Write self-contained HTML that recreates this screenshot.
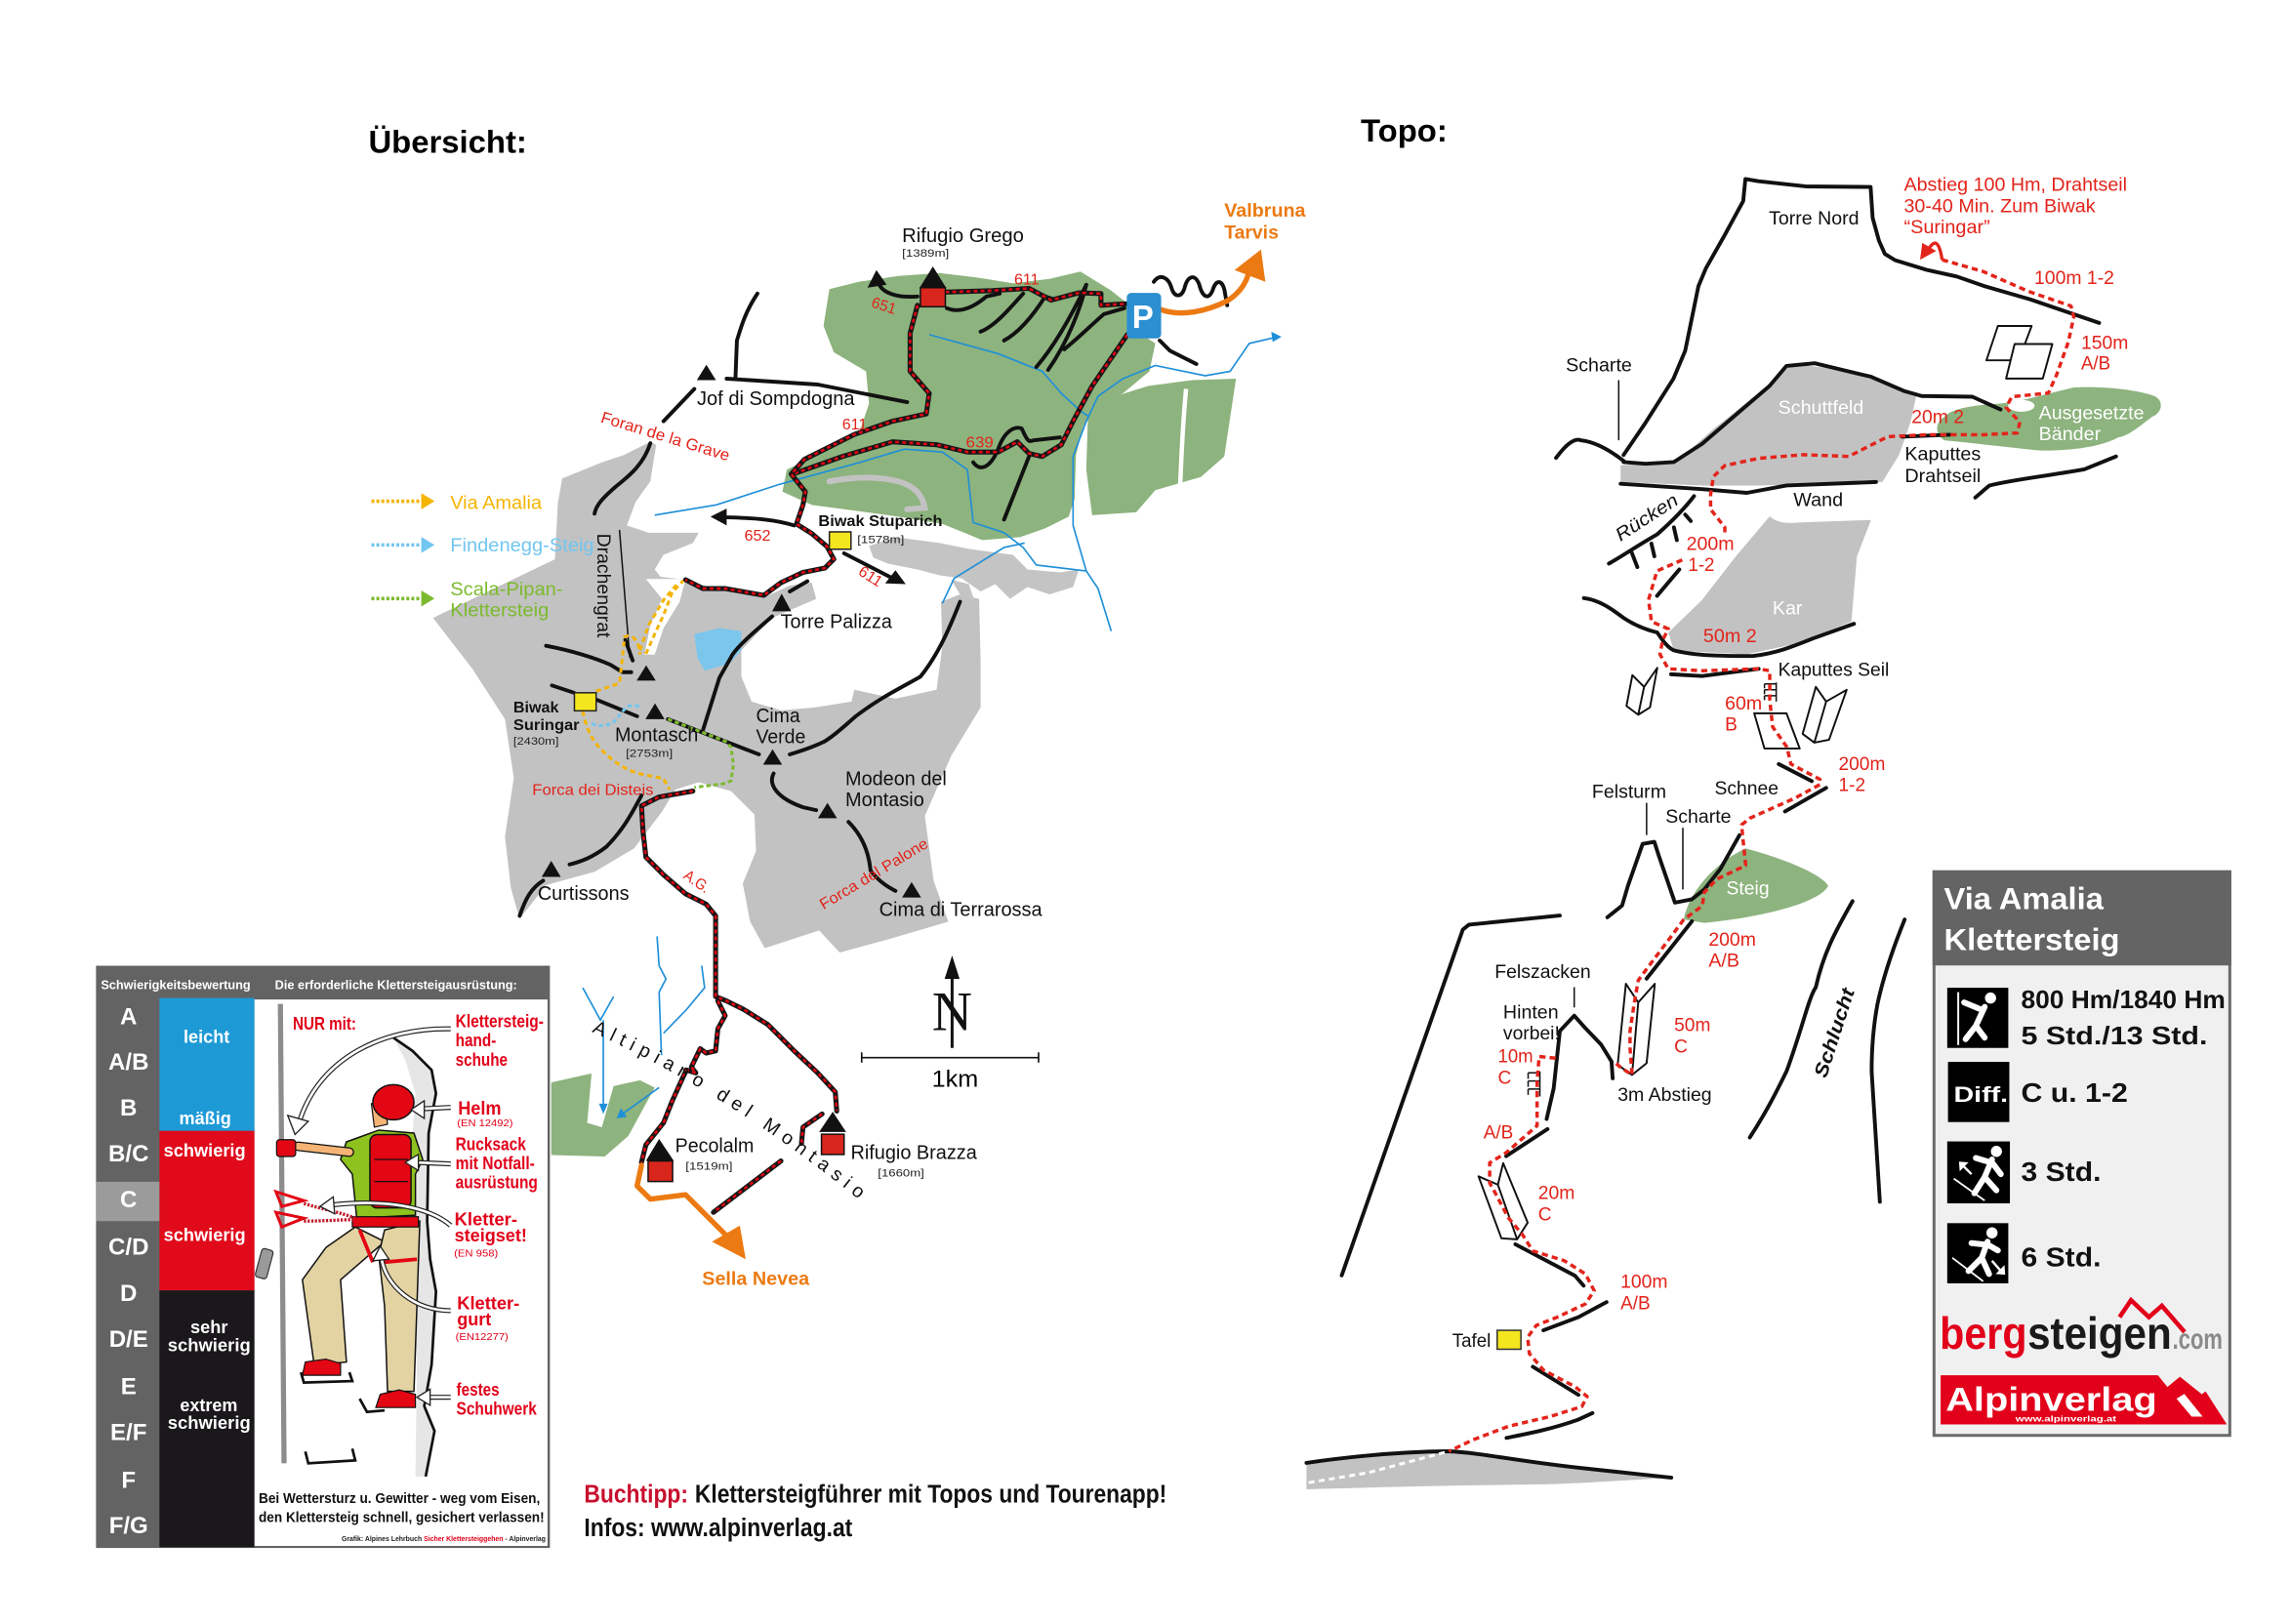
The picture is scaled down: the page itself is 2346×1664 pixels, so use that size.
<!DOCTYPE html>
<html><head><meta charset="utf-8">
<style>
html,body{margin:0;padding:0;background:#fff;}
svg{display:block;}
text{font-family:"Liberation Sans",Arial,sans-serif;}
.b{font-weight:bold;}
.k{fill:none;stroke:#111;stroke-width:2.6;stroke-linecap:round;stroke-linejoin:round;}
.kt{fill:none;stroke:#111;stroke-width:1;}
.tb{fill:none;stroke:#161616;stroke-width:3.4;stroke-linecap:round;stroke-linejoin:round;}
.tr{fill:none;stroke:#e30613;stroke-width:1.7;stroke-dasharray:2.6 2.2;stroke-linejoin:round;}
.bl{fill:none;stroke:#1f8fd8;stroke-width:1.1;}
.rd{fill:none;stroke:#e3241b;stroke-width:2.3;stroke-dasharray:4.2 2.8;stroke-linejoin:round;}
.red{fill:#e2231a;}
.wt{fill:#fff;}
.rk{fill:#fff;stroke:#111;stroke-width:1.3;stroke-linejoin:round;}
.arw{fill:none;stroke:#222;stroke-width:3.4;stroke-linecap:butt;}
.arw2{fill:none;stroke:#fff;stroke-width:1.8;}
.ah{fill:#fff;stroke:#222;stroke-width:0.9;}
</style></head><body>
<svg width="2346" height="1664" viewBox="0 0 1560 1106.5" xmlns="http://www.w3.org/2000/svg">
<rect x="0" y="0" width="1560" height="1106.5" fill="#fff"/>

<defs>
<path id="t1" d="M644,199 L676,198 L701,196.5 L716,204.5 L735,199.5 L750,200 L750,208 L767,207"/>
<path id="t2" d="M768,228 L757,244 L744,263 L731,287 L723,303 L710,311 L701,309 L693,301 L680,308 L659,308 L638,303 L608,301 L574,311 L540,323"/>
<path id="t3" d="M625,208 L620,227 L620,253 L633,268 L631,282 L608,287 L582,296 L548,313 L539,323 L548.6,335 L547,344 L542.6,357 L553,363.5 L563.4,372.4 L568,381 L562,387 L547,390 L532,397 L520.4,405.6 L493.7,401 L478.8,401 L467,395"/>
<path id="t4" d="M472,539 L449,543 L437,549 L438,566 L440,584 L452,596 L467,609 L481,616 L487.5,624 L487.5,642 L487.5,679 L495,682 L507,688 L523,698 L541,716 L557,731 L569,744 L570,757"/>
<path id="t5" d="M489,682 L494,692 L489,701 L487.5,716 L481,717.5 L477,714.5 L471,727 L474,731 L467.5,729 L458,750 L452,765 L440,780 L437,792"/>
<path id="t6" d="M560,759 L547,768 L546,779"/>
<path id="t7" d="M532,791 L486,826"/>
</defs>

<!-- Titles -->
<text x="251" y="104" class="b" font-size="21.5" textLength="108" lengthAdjust="spacingAndGlyphs">Übersicht:</text>
<text x="927" y="96.5" class="b" font-size="21.5" textLength="59" lengthAdjust="spacingAndGlyphs">Topo:</text>

<!-- ================= MAP ================= -->
<!-- gray mountains -->
<path fill="#c2c2c2" d="M443,301 L447,303 L443,328 L433,342 L427,358 L442,363 L476,363 L472,370 L452,378 L446,388 L450,393 L467,395 L490,402 L523,406 L538,399 L553,397 L556,408 L526,421 L505,443 L505,461 L512,478 L532,484 L555,482 L580,478 L582,470 L610,476 L638,470 L642,440 L641,410 L654,405 L667,408 L668,450 L668,482 L648,515 L630,556 L636,600 L646,628 L605,640 L572,649 L558,634 L521,646 L511,628 L506,602 L515,580 L514,555 L498,539 L476,533 L460,538 L451,553 L432,578 L405,594 L372,603 L354,626 L348,605 L344,570 L350,530 L344,490 L322,456 L295,421 L378,381 L380,343 L383,326 L410,315 L425,310 Z"/>
<path fill="#fff" d="M440,394.5 L467,394.5 L463,410 L452,428 L446,446 L439,446 L443,426 L451,408 Z"/>
<path fill="#7cc6ec" d="M473,432 L490,428 L505,430 L505,443 L497,452 L480,457 L475,448 Z"/>
<!-- rocky light gray -->
<path fill="#c4c4c4" d="M592,372 L610,366 L640,370 L660,374 L690,378 L700,388 L722,390 L735,388 L731,400 L715,405 L700,400 L688,408 L678,398 L668,403 L655,394 L640,392 L625,388 L605,384 L595,380 Z"/>
<path fill="#c4c4c4" d="M648,395 L660,398 L664,410 L654,405 Z"/>

<!-- green forests -->
<path fill="#8db37e" d="M565,197 L585,192 L612,188 L640,186 L665,189 L690,193 L715,190 L736,185 L757,198 L772,210 L775,226 L787,234 L783,253 L765,268 L748,278 L738,290 L733,310 L732,340 L728,352 L712,360 L695,366 L669,368 L657,363 L642,357 L612,352 L583,348 L553,344 L533,335 L536,320 L560,308 L585,296 L592,275 L590,253 L568,240 L561,222 Z"/>
<path fill="#8db37e" d="M744,275 L782,263 L812,259 L842,258 L834,311 L818,325 L787,334 L774,349 L744,351 L740,320 L741,287 Z"/>
<path fill="none" stroke="#fff" stroke-width="3" d="M808,265 C806,285 805,305 804,330"/>
<path fill="#8db37e" d="M375.5,737.5 L403,731.4 L400,765 L410,768 L418,740 L436,736 L446,741 L428,774 L412,788 L375.5,787 Z"/>
<path fill="none" stroke="#c2c2c2" stroke-width="4" stroke-linecap="round" d="M565,328 C585,324 600,325 612,328 C622,331 628,336 630,346 L618,347"/>

<!-- streams -->
<path class="bl" d="M446,351 L488,344 L531,330 L586,315 L616,306 L642,308 L659,320 L663,356 L684,363 L697,373 L706,385 L740,389 L748,401 L757,430"/>
<path class="bl" d="M633,228 L680,241 L710,253 L723,268 L736,280 L742,284"/>
<path class="bl" d="M868,230 L851,234 L838,253 L821,256 L787,249 L765,258 L748,270 L740,287 L731,311 L731,358 L740,389"/>
<path fill="#1f8fd8" d="M873,229.5 L866,226 L867,233 Z"/>
<path class="bl" d="M642,411 L650,394 L684,373 L698,370"/>
<path class="bl" d="M447.6,638 L449,658 L453.7,667 L449,676 L450.6,719"/>
<path class="bl" d="M478,658 L480,673 L467.5,688 L452,704"/>
<path class="bl" d="M397,673 L409,695 L418,679"/>
<path class="bl" d="M411,695 L411,754"/>
<path fill="#1f8fd8" d="M411,759 L408,752 L414,752 Z"/>
<path class="bl" d="M449,741 L424,759"/>
<path fill="#1f8fd8" d="M420,762 L423,755 L427,761 Z"/>

<!-- black ridges -->
<path class="k" d="M443,302 C438,318 426,326 419,332 C411,339 406,344 405,350"/>
<path class="kt" stroke-width="1.4" d="M422,361 L429,448"/>
<path class="k" d="M426,436 L431,450"/>
<path class="k" d="M372,440 C388,443 405,448 416,453 L424,458 L430,458"/>
<path class="k" d="M376,467 L391,472 M407,477 L434,488 M455,490 L517,514"/>
<path class="k" d="M538,403 L550,396"/>
<path class="k" d="M526,420 C512,432 503,440 499,446 C494,455 491,460 490,462 L479,497"/>
<path class="k" d="M538,514 C548,511 556,508 562,505 C570,500 577,493 583,488 C600,475 615,468 627,461 C640,445 648,425 654,410"/>
<path class="k" d="M527,527 C523,535 530,544 547,550 L556,552"/>
<path class="k" d="M578,560 C588,570 592,582 593,593 C598,600 604,604 610,607"/>
<path class="k" d="M437,542 C431,553 425,565 413,577 C404,584 396,587 388,589"/>
<path class="k" d="M370,600 C362,605 358,612 354,624"/>
<path class="k" d="M495,258 L557,262 L618,274"/>
<path class="k" d="M516,200 C508,212 505,222 502,232 L501,258"/>
<path class="k" d="M473,265 L452,287"/>
<path class="k" d="M625,202 C612,203 602,200 599,194"/>
<path fill="#111" d="M597,184 L591,196 L604,194 Z"/>
<path class="k" d="M790,232 L797,239 L815,248"/>
<path class="k" d="M701,311 L684,354"/>
<path class="k" d="M663,315 C668,322 675,318 680,306 C684,294 691,290 696,292 C699,298 700,302 704,300 L722,298"/>
<!-- switchbacks -->
<path class="k" stroke-width="2.8" d="M645,210 C655,214 665,208 672,202 L681,200"/>
<path class="k" stroke-width="2.8" d="M668,226 C678,222 688,210 697,200"/>
<path class="k" stroke-width="2.8" d="M684,232 C695,226 705,213 712,202 L718,204"/>
<path class="k" stroke-width="2.8" d="M706,250 C718,236 730,215 740,194 C736,210 728,232 714,252"/>
<path class="k" stroke-width="2.8" d="M725,238 C735,230 745,220 752,214 L766,210"/>
<!-- Valbruna road squiggle -->
<path class="k" stroke-width="2.8" d="M786,192 C790,186 796,189 798,196 C800,203 805,203 807,196 C809,188 814,186 817,194 C819,202 823,205 826,198 C828,191 832,190 834,197 L836,208"/>

<!-- arrows 652 / 611 -->
<path class="k" d="M541,358 C528,354 515,353 495,352.5"/>
<path fill="#111" d="M484,352 L495,346.5 L495,358 Z"/>
<path class="k" d="M575,377 L608,394"/>
<path fill="#111" d="M617,398 L603,397.5 L610,388.5 Z"/>

<!-- trails -->
<use href="#t1" class="tb"/><use href="#t1" class="tr"/>
<use href="#t2" class="tb"/><use href="#t2" class="tr"/>
<use href="#t3" class="tb"/><use href="#t3" class="tr"/>
<use href="#t4" class="tb"/><use href="#t4" class="tr"/>
<use href="#t5" class="tb"/><use href="#t5" class="tr"/>
<use href="#t6" class="tb"/><use href="#t6" class="tr"/>
<use href="#t7" class="tb"/><use href="#t7" class="tr"/>

<!-- colored routes -->
<path fill="none" stroke="#f5b400" stroke-width="2" stroke-dasharray="3.5 2.5" d="M397,484.5 C399,495 403,505 411,512 C418,519 425,524 435,527 L452,530.5 L456,538"/>
<path fill="none" stroke="#f5b400" stroke-width="2" stroke-dasharray="3.5 2.5" d="M406,471 L422,465.5 L424,448 L425.5,434 C429,432 433,434 435,440 L436,446"/>
<path fill="none" stroke="#f5b400" stroke-width="2" stroke-dasharray="3.5 2.5" d="M440,445.5 L446,432 L452,419 L458,403.5 L465.5,395.6"/>
<path fill="none" stroke="#f5b400" stroke-width="2" stroke-dasharray="3.5 2.5" d="M436,443 L442,425.6 L452.6,408 L462,397"/>
<path fill="none" stroke="#72c6ef" stroke-width="2" stroke-dasharray="3 2" d="M403,493 C408,495 413,495 418,492 C421,489 424,484 428,481 L437,481"/>
<path fill="none" stroke="#7dba2f" stroke-width="2" stroke-dasharray="3 2" d="M455,490 L494,505 L498,509 L499.6,521 L498,532 L493,534 L473,536.5"/>

<!-- orange arrows -->
<path fill="none" stroke="#ec7a12" stroke-width="3.6" stroke-linecap="round" stroke-linejoin="round" d="M791,211 C805,216 822,212 836,205 C844,200 848,194 850,188"/>
<path fill="#ec7a12" d="M859,170 L841,184 L862,192 Z"/>
<path fill="none" stroke="#ec7a12" stroke-width="3.6" stroke-linecap="round" stroke-linejoin="round" d="M437,794 L434,808 L443,817 L467,814 L494,841"/>
<path fill="#ec7a12" d="M508,858 L485,846 L504,835 Z"/>

<!-- P sign -->
<rect x="767.6" y="199.6" width="23.4" height="31" rx="3" fill="#2b8fd0"/>
<text x="771.2" y="223.5" class="b" font-size="22" fill="#fff">P</text>

<!-- peaks -->
<g fill="#111">
<path d="M481.2,248.5 L474.7,259 L487.7,259 Z"/>
<path d="M532.5,404.5 L526,416.5 L539,416.5 Z"/>
<path d="M440.2,453.3 L433.7,463.7 L446.7,463.7 Z"/>
<path d="M446.2,479.2 L439.7,490 L452.7,490 Z"/>
<path d="M526.3,510.5 L519.8,521 L532.8,521 Z"/>
<path d="M563.7,547 L557.2,557.5 L570.2,557.5 Z"/>
<path d="M621,601 L614.5,611.5 L627.5,611.5 Z"/>
<path d="M375.5,586.5 L369,597.5 L382,597.5 Z"/>
</g>
<!-- huts -->
<path fill="#111" d="M635.5,181.5 L626.5,196 L644.5,196 Z"/>
<rect x="627" y="196" width="17" height="13" fill="#d9261c" stroke="#111" stroke-width="1"/>
<path fill="#111" d="M449,776 L440,791 L459,791 Z"/>
<rect x="441.5" y="791" width="16.7" height="14" fill="#d9261c" stroke="#111" stroke-width="1"/>
<path fill="#111" d="M567.3,757.5 L558,771.3 L576.4,771.3 Z"/>
<rect x="559.6" y="772.8" width="15.4" height="13.8" fill="#d9261c" stroke="#111" stroke-width="1"/>
<!-- bivouacs -->
<rect x="565" y="362.4" width="14.7" height="11.8" fill="#f4e61e" stroke="#222" stroke-width="1"/>
<rect x="391.3" y="472" width="14.8" height="12.3" fill="#f4e61e" stroke="#222" stroke-width="1"/>

<!-- North arrow & scale -->
<line x1="648.6" y1="662" x2="648.6" y2="714" stroke="#111" stroke-width="2"/>
<path fill="#111" d="M648.6,651 L643.5,667 L653.7,667 Z"/>
<text x="648.6" y="702" font-family="Liberation Serif, serif" font-size="38" text-anchor="middle" fill="#111" style="font-family:'Liberation Serif',serif">N</text>
<path fill="none" stroke="#111" stroke-width="1.1" d="M587,720.6 L707.5,720.6 M587,717 L587,724 M707.5,717 L707.5,724"/>
<text x="634.8" y="740.6" font-size="16" textLength="31.6" lengthAdjust="spacingAndGlyphs">1km</text>

<!-- legend lines -->
<path fill="none" stroke="#f5b400" stroke-width="2.4" stroke-dasharray="2 1.4" d="M253,341.5 L288,341.5"/>
<path fill="#f5b400" d="M287,336 L296,341.5 L287,347 Z"/>
<path fill="none" stroke="#72c6ef" stroke-width="2.4" stroke-dasharray="2 1.4" d="M253,371.3 L288,371.3"/>
<path fill="#72c6ef" d="M287,365.8 L296,371.3 L287,376.8 Z"/>
<path fill="none" stroke="#7dba2f" stroke-width="2.4" stroke-dasharray="2 1.4" d="M253,407.8 L288,407.8"/>
<path fill="#7dba2f" d="M287,402.3 L296,407.8 L287,413.3 Z"/>
<text x="306.7" y="346.9" font-size="13" fill="#f5b400" textLength="62.4" lengthAdjust="spacingAndGlyphs">Via Amalia</text>
<text x="306.7" y="375.7" font-size="13" fill="#72c6ef" textLength="98" lengthAdjust="spacingAndGlyphs">Findenegg-Steig</text>
<text x="306.7" y="405.6" font-size="13" fill="#7dba2f" textLength="76.7" lengthAdjust="spacingAndGlyphs">Scala-Pipan-</text>
<text x="306.7" y="420" font-size="13" fill="#7dba2f" textLength="67.3" lengthAdjust="spacingAndGlyphs">Klettersteig</text>

<!-- map labels -->
<g font-size="13.4" fill="#111">
<text x="614.5" y="165" textLength="83" lengthAdjust="spacingAndGlyphs">Rifugio Grego</text>
<text x="474.8" y="276" textLength="107.4" lengthAdjust="spacingAndGlyphs">Jof di Sompdogna</text>
<text x="531.7" y="427.8" textLength="76" lengthAdjust="spacingAndGlyphs">Torre Palizza</text>
<text x="418.9" y="504.9" textLength="56.8" lengthAdjust="spacingAndGlyphs">Montasch</text>
<text x="515" y="492" textLength="30" lengthAdjust="spacingAndGlyphs">Cima</text>
<text x="515" y="506.5" textLength="33.8" lengthAdjust="spacingAndGlyphs">Verde</text>
<text x="575.9" y="535" textLength="69" lengthAdjust="spacingAndGlyphs">Modeon del</text>
<text x="575.9" y="549.4" textLength="53.7" lengthAdjust="spacingAndGlyphs">Montasio</text>
<text x="366.3" y="613.2" textLength="62.3" lengthAdjust="spacingAndGlyphs">Curtissons</text>
<text x="598.9" y="624" textLength="111" lengthAdjust="spacingAndGlyphs">Cima di Terrarossa</text>
<text x="459.9" y="785.1" textLength="53.7" lengthAdjust="spacingAndGlyphs">Pecolalm</text>
<text x="579.5" y="789.7" textLength="86" lengthAdjust="spacingAndGlyphs">Rifugio Brazza</text>
<text x="407" y="363.5" transform="rotate(90 407 363.5)" font-size="13" textLength="71" lengthAdjust="spacingAndGlyphs">Drachengrat</text>
</g>
<g font-size="7.6" fill="#222">
<text x="614.5" y="175" textLength="32" lengthAdjust="spacingAndGlyphs">[1389m]</text>
<text x="584" y="370" textLength="32" lengthAdjust="spacingAndGlyphs">[1578m]</text>
<text x="349.7" y="507.5" textLength="31" lengthAdjust="spacingAndGlyphs">[2430m]</text>
<text x="426.3" y="515.8" textLength="32" lengthAdjust="spacingAndGlyphs">[2753m]</text>
<text x="467" y="797" textLength="32" lengthAdjust="spacingAndGlyphs">[1519m]</text>
<text x="598" y="801.5" textLength="31.6" lengthAdjust="spacingAndGlyphs">[1660m]</text>
</g>
<g class="b" fill="#111">
<text x="557.5" y="358.5" font-size="10.5" textLength="84.5" lengthAdjust="spacingAndGlyphs">Biwak Stuparich</text>
<text x="349.7" y="485.5" font-size="10.5" textLength="31" lengthAdjust="spacingAndGlyphs">Biwak</text>
<text x="349.7" y="497.5" font-size="10.5" textLength="45" lengthAdjust="spacingAndGlyphs">Suringar</text>
</g>
<g class="b" fill="#ec7a12" font-size="13">
<text x="834" y="147.5" textLength="55.4" lengthAdjust="spacingAndGlyphs">Valbruna</text>
<text x="834" y="162.5" textLength="37" lengthAdjust="spacingAndGlyphs">Tarvis</text>
<text x="478.3" y="875.5" textLength="73" lengthAdjust="spacingAndGlyphs">Sella Nevea</text>
</g>
<g fill="#e2231a" font-size="10.5">
<text x="690.9" y="194" textLength="17" lengthAdjust="spacingAndGlyphs">611</text>
<text x="593" y="209" transform="rotate(18 593 209)" textLength="17" lengthAdjust="spacingAndGlyphs">651</text>
<text x="573.7" y="292.5" textLength="17" lengthAdjust="spacingAndGlyphs">611</text>
<text x="658" y="305" textLength="18.8" lengthAdjust="spacingAndGlyphs">639</text>
<text x="507" y="368.5" textLength="18" lengthAdjust="spacingAndGlyphs">652</text>
<text x="584" y="391" transform="rotate(33 584 391)" textLength="17" lengthAdjust="spacingAndGlyphs">611</text>
<text x="408.7" y="287.5" transform="rotate(17 408.7 287.5)" font-size="11" textLength="91" lengthAdjust="spacingAndGlyphs">Foran de la Grave</text>
<text x="362.6" y="541.5" textLength="82.6" lengthAdjust="spacingAndGlyphs">Forca dei Disteis</text>
<text x="465" y="598" transform="rotate(35 465 598)" textLength="19" lengthAdjust="spacingAndGlyphs">A.G.</text>
<text x="561" y="620" transform="rotate(-31 561 620)" textLength="84" lengthAdjust="spacingAndGlyphs">Forca del Palone</text>
</g>
<path id="alt" fill="none" d="M403,703 Q496,745 586,818"/>
<text font-size="13" fill="#111" letter-spacing="4.2"><textPath href="#alt">Altipiano del Montasio</textPath></text>

<!-- ================= LEGEND BOX ================= -->
<rect x="65.4" y="658" width="309.2" height="396.7" fill="#636363"/>
<rect x="173.3" y="681" width="199.7" height="372.3" fill="#fff"/>
<rect x="108.6" y="680" width="64.7" height="90.5" fill="#1d9ad6"/>
<rect x="108.6" y="770.5" width="64.7" height="108.7" fill="#e10a1b"/>
<rect x="108.6" y="879.2" width="64.7" height="175" fill="#1b181c"/>
<rect x="65.4" y="805.2" width="43.2" height="26.8" fill="#9b9b9b"/>
<g class="b" fill="#fff" font-size="8.5">
<text x="68.7" y="673.8" textLength="102" lengthAdjust="spacingAndGlyphs">Schwierigkeitsbewertung</text>
<text x="187.3" y="673.8" textLength="165" lengthAdjust="spacingAndGlyphs">Die erforderliche Klettersteigausrüstung:</text>
</g>
<g class="b" fill="#fff" font-size="16" text-anchor="middle">
<text x="87.6" y="697.8">A</text>
<text x="87.6" y="728.8">A/B</text>
<text x="87.6" y="760.2">B</text>
<text x="87.6" y="791.4">B/C</text>
<text x="87.6" y="822.6">C</text>
<text x="87.6" y="854.8">C/D</text>
<text x="87.6" y="886.3">D</text>
<text x="87.6" y="917.5">D/E</text>
<text x="87.6" y="949.8">E</text>
<text x="87.6" y="981.2">E/F</text>
<text x="87.6" y="1013.8">F</text>
<text x="87.6" y="1044.8">F/G</text>
</g>
<g class="b" fill="#fff" font-size="12">
<text x="125" y="710.5" textLength="31.5" lengthAdjust="spacingAndGlyphs">leicht</text>
<text x="122" y="766" textLength="35.5" lengthAdjust="spacingAndGlyphs">mäßig</text>
<text x="111.5" y="788" textLength="55.8" lengthAdjust="spacingAndGlyphs">schwierig</text>
<text x="111.5" y="845.5" textLength="55.8" lengthAdjust="spacingAndGlyphs">schwierig</text>
<text x="129.7" y="908.5" textLength="25.5" lengthAdjust="spacingAndGlyphs">sehr</text>
<text x="114.2" y="920.5" textLength="56.5" lengthAdjust="spacingAndGlyphs">schwierig</text>
<text x="122.6" y="961.5" textLength="39.2" lengthAdjust="spacingAndGlyphs">extrem</text>
<text x="114.2" y="973.5" textLength="56.5" lengthAdjust="spacingAndGlyphs">schwierig</text>
</g>
<!-- climber illustration -->
<path d="M268,707 L281,716 L294,729 L297,745 L292,772 L291,832 L293,858 L297,880 L294,930 L289,958 L296,975 L290,1006 L283,1006 L284,930 L281,870 L279,800 L283,745 L276,722 Z" fill="#e6e6e6"/>
<path fill="none" stroke="#111" stroke-width="1.8" stroke-linejoin="round" d="M268,707 L281,716 L294,729 L297,745 L292,772 L291,832 L293,858 L297,880 L294,930 L289,958 L296,975 L290,1006"/>
<line x1="191" y1="684" x2="193.5" y2="997" stroke="#8c8c8c" stroke-width="3.5"/>
<rect x="176" y="851" width="8" height="20" rx="2" fill="#9a9a9a" stroke="#333" stroke-width="0.8" transform="rotate(15 180 861)"/>
<!-- legs -->
<path fill="#e3d3a3" stroke="#111" stroke-width="1" d="M242,836 L262,846 L232,872 L236,928 L214,930 L206,872 L222,850 Z"/>
<path fill="#e3d3a3" stroke="#111" stroke-width="1" d="M262,838 L286,832 L284,890 L282,948 L264,948 L262,890 L258,855 Z"/>
<path fill="none" stroke="#e30613" stroke-width="2.5" d="M245,838 L254,860 M262,860 L284,858"/>
<!-- shoes -->
<path fill="#e30613" stroke="#111" stroke-width="0.8" d="M206,937 L208,928 L222,926 L232,929 L232,937 Z"/>
<path fill="#e30613" stroke="#111" stroke-width="0.8" d="M256,959 L259,950 L272,947 L283,950 L283,959 Z"/>
<path fill="none" stroke="#111" stroke-width="1.8" d="M205,935 L207,942 L240,941 L238,935 M245,953 L250,962 L262,961 M208,989 L210,997 L242,995 L240,987"/>
<!-- torso -->
<path fill="#8dc21f" stroke="#111" stroke-width="1" d="M236,778 L258,770 L282,772 L288,790 L283,800 L283,828 L243,830 L240,800 L232,790 Z"/>
<rect x="252" y="773" width="28" height="50" rx="5" fill="#e30613" stroke="#111" stroke-width="1"/>
<path fill="none" stroke="#111" stroke-width="0.8" d="M255,790 L278,790 M255,805 L278,805"/>
<rect x="240" y="829" width="45" height="7" fill="#e30613" stroke="#111" stroke-width="0.8"/>
<!-- arm -->
<path fill="none" stroke="#111" stroke-width="6.5" stroke-linecap="round" d="M238,785 L203,781"/>
<path fill="none" stroke="#f5b475" stroke-width="4.8" stroke-linecap="round" d="M238,785 L203,781"/>
<rect x="188.4" y="776.5" width="13" height="11.5" rx="2" fill="#e30613" stroke="#111" stroke-width="0.8"/>
<!-- head -->
<path fill="#f5b475" stroke="#111" stroke-width="0.8" d="M253,752 L262,750 L264,766 L255,768 Z"/>
<ellipse cx="268" cy="751" rx="14" ry="12" fill="#e30613" stroke="#111" stroke-width="1"/>
<!-- carabiners -->
<path fill="none" stroke="#e30613" stroke-width="2" d="M207,818 L188,812 L192,822 Z M207,830 L188,826 L192,836 Z"/>
<path fill="none" stroke="#c0182a" stroke-width="2.2" stroke-dasharray="1.5 1" d="M207,820 C220,824 232,826 242,830 M207,832 C220,832 232,831 242,831"/>
<!-- label arrows -->
<path class="arw" d="M307,701 C262,700 218,720 204,764"/><path class="arw2" d="M307,701 C262,700 218,720 204,764"/>
<path class="ah" d="M201,773 L196,760 L210,764 Z"/>
<path class="arw" d="M307,754.5 L287,755.5"/><path class="arw2" d="M307,754.5 L287,755.5"/>
<path class="ah" d="M280,756 L289,750 L289,762 Z"/>
<path class="arw" d="M307,793 L283,792"/><path class="arw2" d="M307,793 L283,792"/>
<path class="ah" d="M276,792 L285,786.5 L285,797.5 Z"/>
<path class="arw" d="M307,835 C292,822 262,817 226,821"/><path class="arw2" d="M307,835 C292,822 262,817 226,821"/>
<path class="ah" d="M218,822 L227,815.5 L228,827 Z"/>
<path class="arw" d="M307,893 C282,893 263,876 260,858"/><path class="arw2" d="M307,893 C282,893 263,876 260,858"/>
<path class="ah" d="M259,849 L265,858 L254,859 Z"/>
<path class="arw" d="M307,952 L291,952"/><path class="arw2" d="M307,952 L291,952"/>
<path class="ah" d="M284,952 L293,946.5 L293,957.5 Z"/>
<!-- red labels -->
<g class="b" fill="#e2001a" font-size="12">
<text x="199.5" y="701.5" textLength="43.2" lengthAdjust="spacingAndGlyphs">NUR mit:</text>
<text x="310.3" y="700" textLength="60" lengthAdjust="spacingAndGlyphs">Klettersteig-</text>
<text x="310.3" y="713" textLength="27.7" lengthAdjust="spacingAndGlyphs">hand-</text>
<text x="310.3" y="726" textLength="35.5" lengthAdjust="spacingAndGlyphs">schuhe</text>
<text x="312" y="759.5" font-size="13" textLength="29.5" lengthAdjust="spacingAndGlyphs">Helm</text>
<text x="310.3" y="783.5" textLength="48" lengthAdjust="spacingAndGlyphs">Rucksack</text>
<text x="310.3" y="796.5" textLength="54" lengthAdjust="spacingAndGlyphs">mit Notfall-</text>
<text x="310.3" y="809.5" textLength="56" lengthAdjust="spacingAndGlyphs">ausrüstung</text>
<text x="309.6" y="835" textLength="42.8" lengthAdjust="spacingAndGlyphs">Kletter-</text>
<text x="309.6" y="846" textLength="49.4" lengthAdjust="spacingAndGlyphs">steigset!</text>
<text x="311.4" y="892" textLength="42.5" lengthAdjust="spacingAndGlyphs">Kletter-</text>
<text x="311.4" y="903" textLength="23.3" lengthAdjust="spacingAndGlyphs">gurt</text>
<text x="310.9" y="951" textLength="29.3" lengthAdjust="spacingAndGlyphs">festes</text>
<text x="310.9" y="964" textLength="54.7" lengthAdjust="spacingAndGlyphs">Schuhwerk</text>
</g>
<g fill="#e2001a" font-size="6.8">
<text x="311.4" y="767.5" textLength="38" lengthAdjust="spacingAndGlyphs">(EN 12492)</text>
<text x="309.3" y="856" textLength="30" lengthAdjust="spacingAndGlyphs">(EN 958)</text>
<text x="310.3" y="913" textLength="36" lengthAdjust="spacingAndGlyphs">(EN12277)</text>
</g>
<g class="b" fill="#111" font-size="10">
<text x="176.2" y="1024" textLength="191.7" lengthAdjust="spacingAndGlyphs">Bei Wettersturz u. Gewitter - weg vom Eisen,</text>
<text x="176.2" y="1037" textLength="194.6" lengthAdjust="spacingAndGlyphs">den Klettersteig schnell, gesichert verlassen!</text>
</g>
<text x="232.7" y="1050" class="b" font-size="4.8" fill="#222" textLength="139" lengthAdjust="spacingAndGlyphs">Grafik: Alpines Lehrbuch <tspan fill="#e2001a">Sicher Klettersteiggehen</tspan> - Alpinverlag</text>

<!-- Buchtipp -->
<text x="397.9" y="1023.7" class="b" font-size="17" fill="#c8102e" textLength="70.9" lengthAdjust="spacingAndGlyphs">Buchtipp:</text>
<text x="473.4" y="1023.7" class="b" font-size="17" fill="#111" textLength="321.4" lengthAdjust="spacingAndGlyphs">Klettersteigführer mit Topos und Tourenapp!</text>
<text x="397.9" y="1046.6" class="b" font-size="17" fill="#111" textLength="182.8" lengthAdjust="spacingAndGlyphs">Infos: www.alpinverlag.at</text>

<!-- ================= TOPO ================= -->
<!-- gray fields -->
<path fill="#c2c2c2" d="M1104,317 L1121,316 L1144,313 L1167,292.5 L1198,267.8 L1221,248 L1244,250.5 L1274.6,258 L1297.6,267.8 L1305.3,270.3 L1301.5,287.6 L1293.8,309.8 L1282.3,328.4 L1198,330.8 L1159.5,330.8 L1104,328.4 Z"/>
<path fill="#c2c2c2" d="M1205.6,351.8 C1210,356 1217,357 1225,356 L1274.6,354.3 L1265,379 L1261.2,423.5 L1224.7,438.4 L1190.2,445.8 L1140.3,443.3 L1136.5,431 L1159.5,408.7 L1182.5,379 Z"/>
<path fill="#c2c2c2" d="M890,996.7 C930,991 960,989 987,988.8 C1010,990 1030,995 1075,1000 L1138.5,1006.8 C1100,1009 1070,1011 1051,1011.3 C1000,1012 950,1013 890,1014.7 Z"/>
<!-- green -->
<path fill="#8db37e" d="M1324.5,284 C1330,278 1345,276 1362.8,275 C1380,273 1395,268 1412.7,264 C1430,263 1455,265 1468,270 C1475,274 1472,282 1466,284 C1458,290 1450,297 1443,298 C1430,305 1410,307 1390,307 C1370,305 1345,302 1324.5,300 C1318,296 1318,288 1324.5,284 Z"/>
<ellipse cx="1377" cy="276.5" rx="9" ry="4" fill="#fff"/>
<path fill="#8db37e" d="M1147,626.5 C1150,610 1165,590 1189,578 C1215,585 1240,595 1245.4,603.5 C1240,615 1200,625 1161,628.8 Z"/>

<!-- topo black lines -->
<path class="k" d="M1106,310 L1121,288 L1140,258 L1148,239 L1157,195 L1162,183 L1175,160 L1187.5,137 L1189,122 L1198,123.5 L1230,127 L1274.3,127.4 L1275.7,148.5 L1280,164 L1284,173 L1291,177.3 L1313,184 L1333,188.4 L1352,195 L1383,204 L1430,220"/>
<path class="k" d="M1060,312 C1066,304 1072,298 1077,300 C1087,301 1097,307 1106,314"/>
<path class="kt" d="M1102.7,259 L1102.7,300"/>
<path class="k" d="M1106,314.8 L1121,316 L1140.3,314.8 L1159.5,302.4 L1182.5,282.6 L1205.5,262.9 L1217,249.3 L1236.2,247.5 L1274.6,256.7 L1297.6,266.6 L1309,269.8 L1343.6,270.3 L1362.8,279"/>
<path class="k" d="M1104,329.6 L1159.5,333.3 L1190,335.8 L1217,330.8 L1278,328.4"/>
<path class="k" d="M1295.7,297.5 L1328.3,296.2"/>
<path class="k" d="M1345.6,339 L1355.2,330.8 C1370,327 1390,325 1420,319.7 L1441.5,311"/>
<path class="k" d="M1096,384 C1105,379 1115,372 1129,364 C1138,356 1148,346 1154,338 M1111.6,376.6 L1115.4,386.4 M1125,370.4 L1127,379 M1140.3,359.3 L1142.3,368 M1148,350.6 L1151.8,355"/>
<path class="k" d="M1128.8,406 L1144,388"/>
<path class="k" d="M1079,407.5 C1090,409 1098,415 1106,421 C1115,427 1125,430 1129,431 C1133,437 1136,441 1140,443 C1155,447 1175,447 1194,447 C1210,445 1220,441 1235,435 L1263,425"/>
<path class="k" d="M1138.4,459.4 L1159.5,460.6 L1198,455.7"/>
<path class="k" d="M1211.7,520.6 L1234.2,532.2 M1216,552.9 L1244,536.8"/>
<path class="k" d="M1095,625 L1105,617 L1109,603.5 L1119,575 L1127,573.6 L1130,583 L1141,615 L1152.6,612.7 L1161,606 L1172,592 L1185,569"/>
<path class="kt" d="M1121.7,547 L1121.7,569 M1146.4,564 L1146.4,606 M1072.4,672.6 L1072.4,686.4"/>
<path class="k" d="M1152.6,627.7 L1121.7,666.8"/>
<path class="k" d="M1062.6,623.8 L1000.7,630 L996.5,633.4 L914,869"/>
<path class="k" d="M1053.6,762.4 L1058.4,741.6 L1062.6,702.5 L1072.4,692 L1079.5,700 L1090.7,711.7 L1097.8,723.2 L1098.6,734.7"/>
<path class="k" d="M1026,787.7 L1054.2,769.3"/>
<path class="k" d="M1192,775 C1205,755 1212,740 1217,730 C1228,700 1232,680 1237,672.6 C1242,650 1250,635 1262,614"/>
<path class="k" d="M1297.5,626.5 C1288,650 1282,670 1279,684 C1276,700 1275,715 1275,730 L1280.6,818.8"/>
<path class="k" d="M1032.3,847.8 L1072.9,869.2 L1078.8,876 M1051.4,906.4 L1075.3,897.4 L1094.4,887.2 M1044.2,931.2 L1075.3,950.4 M1026.3,979.7 C1040,977 1056,974 1075,967.3 L1084.8,962.8"/>
<path class="k" d="M890,996.7 C930,991 960,989 987,988.8 C1010,990 1030,995 1075,1000 L1138.5,1006.8"/>
<path fill="none" stroke="#fff" stroke-width="2" stroke-dasharray="4 3" d="M891.5,1010.2 L932,1003.4 L987,988.8"/>

<!-- rocks -->
<path class="rk" d="M1361,222.1 L1384,222.1 L1375.2,245.5 L1353.2,245.5 Z"/>
<path class="rk" d="M1372.4,234.4 L1398.1,234.4 L1391.6,257.9 L1366.6,257.9 Z"/>
<path class="rk" d="M1112,460 L1120,468 L1129,455 L1124,482 L1116,487 L1108,481 Z M1120,468 L1116,487"/>
<path class="rk" d="M1237,468 L1244,478 L1258,470 L1246,504 L1236,506 L1228,500 Z M1244,478 L1236,506"/>
<path class="rk" d="M1195,486 L1217,486 L1226,510 L1202,510 Z"/>
<path class="rk" d="M1107.6,670.3 L1116,683 L1127.3,670.3 L1121.7,724.4 L1111.8,732.4 L1102,725.5 Z M1116,683 L1111.8,732.4"/>
<path class="rk" d="M1007.2,801.5 L1020.4,807.2 L1024,792.5 L1040.7,833 L1033.5,844.4 L1022.8,843.7 Z M1020.4,807.2 L1033.5,844.4"/>
<!-- ladder symbols -->
<path fill="none" stroke="#111" stroke-width="1" d="M1210,465 L1210,478 M1202,466 L1210,466 M1202,466 L1202,469 M1202,470 L1210,470 M1202,470 L1202,473 M1202,474 L1210,474 M1202,474 L1202,477"/>
<path fill="none" stroke="#111" stroke-width="1" d="M1049,730 L1049,747 M1041,731 L1049,731 M1041,731 L1041,735 M1041,736.5 L1049,736.5 M1041,736.5 L1041,740.5 M1041,742 L1049,742 M1041,742 L1041,746"/>
<!-- red route -->
<path class="rd" d="M1323,177 L1351,185 L1382,198.6 L1410.8,208.5 L1412.7,216 L1409,233 L1401,255.4 L1395.4,267.8 L1370.5,270.3 L1366.6,277.7 L1376,287.6 L1374.3,295 L1351.3,296.2 L1313,296.2 L1286,297.5 L1259.3,311 L1228.6,309.8 L1198,312.3 L1175,317.2 L1167.2,324.7 L1165.3,337 L1165.3,347 L1175,359.3 L1175,365.4"/>
<path class="rd" d="M1146,381.5 L1128.8,389 L1123,408.7 L1125,423.5 L1136.5,428.5 L1132.7,436 L1130.8,445.8 L1136.5,455.7 L1159.5,457 L1198,455.7 L1205.6,457 L1205.6,477 L1207.6,495.3 L1217.3,509 L1220,520.6 L1239.8,531 L1239.8,534.5 L1223,543.7 L1192,557.5 L1186.4,562 L1187.8,576 L1189.2,589.7 L1169.5,599 L1161,608 L1159.6,617.3 L1147,626.5 L1138.5,638 L1124.5,656.5 L1116,668 L1113.2,684 L1110.4,702.5 L1110.4,714 L1111.8,732.4 L1104.8,727.8 L1100.6,724.4"/>
<path class="rd" d="M1059.8,721 L1048.5,719.8 L1047.1,737 L1047.1,767 L1026,785.4 L1014.8,792.3 L1014.8,806 L1018,811.7 L1027.5,829.7 L1037,841 L1044.2,852.3 L1065.7,859 L1080,868 L1086,879.4 L1080,888.4 L1061,897.4 L1046.6,903 L1040.7,911 L1041.8,922.2 L1051.4,933.5 L1072.9,944.8 L1081.2,951.5 L1077.6,958.3 L1056.2,965.1 L1027.5,971.8 L1003.7,980.9 L987,988.8"/>
<path fill="none" stroke="#e3241b" stroke-width="2.2" d="M1323,177 C1322,170 1320,164 1317,166 C1314,168 1313,171 1312,173"/>
<path fill="#e3241b" d="M1308,177 L1309.5,165.5 L1319,171 Z"/>
<rect x="1019.9" y="906.4" width="16.2" height="12.9" fill="#f4e61e" stroke="#333" stroke-width="1"/>

<!-- topo labels -->
<g font-size="12.7" fill="#111">
<text x="1205" y="152.8" textLength="61.4" lengthAdjust="spacingAndGlyphs">Torre Nord</text>
<text x="1066.7" y="253" textLength="45" lengthAdjust="spacingAndGlyphs">Scharte</text>
<text x="1297.6" y="313.5" textLength="51.8" lengthAdjust="spacingAndGlyphs">Kaputtes</text>
<text x="1297.6" y="328.4" textLength="51.8" lengthAdjust="spacingAndGlyphs">Drahtseil</text>
<text x="1221.7" y="344.9" textLength="33.8" lengthAdjust="spacingAndGlyphs">Wand</text>
<text x="1211.3" y="460.6" textLength="75.6" lengthAdjust="spacingAndGlyphs">Kaputtes Seil</text>
<text x="1084.5" y="543.7" textLength="50.6" lengthAdjust="spacingAndGlyphs">Felsturm</text>
<text x="1168" y="541.4" textLength="43.6" lengthAdjust="spacingAndGlyphs">Schnee</text>
<text x="1134.6" y="560.5" textLength="44.7" lengthAdjust="spacingAndGlyphs">Scharte</text>
<text x="1018.2" y="666.4" textLength="65.5" lengthAdjust="spacingAndGlyphs">Felszacken</text>
<text x="1024" y="693.8" textLength="37.7" lengthAdjust="spacingAndGlyphs">Hinten</text>
<text x="1024" y="708.3" textLength="38.5" lengthAdjust="spacingAndGlyphs">vorbei!</text>
<text x="1102" y="750.2" textLength="64.1" lengthAdjust="spacingAndGlyphs">3m Abstieg</text>
<text x="989.3" y="917.7" textLength="26.3" lengthAdjust="spacingAndGlyphs">Tafel</text>
<text x="1103.9" y="369.1" transform="rotate(-33 1103.9 369.1)" font-style="italic" textLength="48" lengthAdjust="spacingAndGlyphs">Rücken</text>
<text x="1244" y="735" transform="rotate(-72 1244 735)" font-weight="bold" font-style="italic" font-size="13" textLength="63" lengthAdjust="spacingAndGlyphs">Schlucht</text>
</g>
<g font-size="12.7" fill="#fff">
<text x="1211.3" y="282.1" textLength="58.3" lengthAdjust="spacingAndGlyphs">Schuttfeld</text>
<text x="1388.9" y="285.6" textLength="71.7" lengthAdjust="spacingAndGlyphs">Ausgesetzte</text>
<text x="1388.9" y="300" textLength="42.2" lengthAdjust="spacingAndGlyphs">Bänder</text>
<text x="1207.5" y="418.6" textLength="20.3" lengthAdjust="spacingAndGlyphs">Kar</text>
<text x="1176" y="609.3" textLength="29.3" lengthAdjust="spacingAndGlyphs">Steig</text>
</g>
<g font-size="12.7" fill="#e2231a">
<text x="1297" y="129.9" textLength="152" lengthAdjust="spacingAndGlyphs">Abstieg 100 Hm, Drahtseil</text>
<text x="1297" y="144.7" textLength="130.4" lengthAdjust="spacingAndGlyphs">30-40 Min. Zum Biwak</text>
<text x="1297" y="159" textLength="58.7" lengthAdjust="spacingAndGlyphs">“Suringar”</text>
<text x="1385.8" y="193.6" textLength="54.5" lengthAdjust="spacingAndGlyphs">100m 1-2</text>
<text x="1417.7" y="237.6" textLength="32.2" lengthAdjust="spacingAndGlyphs">150m</text>
<text x="1417.7" y="251.7" textLength="20" lengthAdjust="spacingAndGlyphs">A/B</text>
<text x="1302.2" y="288.3" textLength="35.7" lengthAdjust="spacingAndGlyphs">20m 2</text>
<text x="1148.8" y="374.6" textLength="32.6" lengthAdjust="spacingAndGlyphs">200m</text>
<text x="1150" y="389" textLength="18" lengthAdjust="spacingAndGlyphs">1-2</text>
<text x="1160.3" y="437.6" textLength="36.4" lengthAdjust="spacingAndGlyphs">50m 2</text>
<text x="1175.1" y="483.4" textLength="25.3" lengthAdjust="spacingAndGlyphs">60m</text>
<text x="1175.1" y="497.6">B</text>
<text x="1252.5" y="524.8" textLength="31.8" lengthAdjust="spacingAndGlyphs">200m</text>
<text x="1252.5" y="539" textLength="18.3" lengthAdjust="spacingAndGlyphs">1-2</text>
<text x="1163.9" y="644.5" textLength="32.3" lengthAdjust="spacingAndGlyphs">200m</text>
<text x="1163.9" y="658.8" textLength="21" lengthAdjust="spacingAndGlyphs">A/B</text>
<text x="1140.5" y="702.5" textLength="24.8" lengthAdjust="spacingAndGlyphs">50m</text>
<text x="1140.5" y="717">C</text>
<text x="1020.4" y="723.7" textLength="24" lengthAdjust="spacingAndGlyphs">10m</text>
<text x="1020.4" y="738.4">C</text>
<text x="1010.6" y="775.7" textLength="20.3" lengthAdjust="spacingAndGlyphs">A/B</text>
<text x="1047.8" y="816.9" textLength="25" lengthAdjust="spacingAndGlyphs">20m</text>
<text x="1047.8" y="831.5">C</text>
<text x="1103.9" y="877.5" textLength="32.2" lengthAdjust="spacingAndGlyphs">100m</text>
<text x="1103.9" y="892.2" textLength="20.3" lengthAdjust="spacingAndGlyphs">A/B</text>
</g>

<!-- ================= INFO BOX ================= -->
<rect x="1317.5" y="594" width="201.5" height="384" fill="#f0f0f0" stroke="#6a6a6a" stroke-width="2"/>
<rect x="1316.5" y="593" width="203.5" height="64.8" fill="#646464"/>
<g class="b" fill="#fff" font-size="21">
<text x="1324.3" y="619.4" textLength="108.6" lengthAdjust="spacingAndGlyphs">Via Amalia</text>
<text x="1324.3" y="647.5" textLength="119.7" lengthAdjust="spacingAndGlyphs">Klettersteig</text>
</g>
<!-- icons -->
<rect x="1326.5" y="673" width="41.6" height="41" fill="#000"/>
<line x1="1334" y1="676" x2="1334" y2="712" stroke="#fff" stroke-width="1.3"/>
<circle cx="1356" cy="680" r="3.8" fill="#fff"/>
<path fill="none" stroke="#fff" stroke-width="4" stroke-linecap="round" d="M1352,686 L1346,699 L1339,708 M1346,699 L1352,707 M1350,688 L1338,683"/>
<rect x="1327" y="723.5" width="41.8" height="41" fill="#000"/>
<text x="1330.9" y="750.8" class="b" font-size="15" fill="#fff" textLength="37" lengthAdjust="spacingAndGlyphs">Diff.</text>
<rect x="1326.5" y="777.7" width="42.7" height="42.2" fill="#000"/>
<circle cx="1360" cy="784.5" r="3.8" fill="#fff"/>
<path fill="none" stroke="#fff" stroke-width="4" stroke-linecap="round" d="M1357,790 L1352,802 L1345,813 M1352,802 L1360,811 M1356,792 L1346,789 M1357,792 L1363,800"/>
<path fill="none" stroke="#fff" stroke-width="1.6" d="M1343,800 L1337,794"/>
<path fill="#fff" d="M1334.5,791.5 L1341,792 L1335,798 Z"/>
<path fill="none" stroke="#fff" stroke-width="1.2" d="M1331,803 L1352,818"/>
<rect x="1326.5" y="833.4" width="41.6" height="41" fill="#000"/>
<circle cx="1357" cy="840" r="3.8" fill="#fff"/>
<path fill="none" stroke="#fff" stroke-width="4" stroke-linecap="round" d="M1354,846 L1350,857 L1341,866 M1350,857 L1355,868 M1353,848 L1343,847 M1354,848 L1361,852"/>
<path fill="none" stroke="#fff" stroke-width="1.6" d="M1357,859 L1363,866"/>
<path fill="#fff" d="M1366,868.5 L1359.5,868 L1365.5,862 Z"/>
<path fill="none" stroke="#fff" stroke-width="1.2" d="M1330,857 L1351,873"/>
<g class="b" fill="#111">
<text x="1376.8" y="686.9" font-size="17.5" textLength="139.2" lengthAdjust="spacingAndGlyphs">800 Hm/1840 Hm</text>
<text x="1376.8" y="711.5" font-size="17.5" textLength="127" lengthAdjust="spacingAndGlyphs">5 Std./13 Std.</text>
<text x="1376.8" y="750.8" font-size="18.5" textLength="72.7" lengthAdjust="spacingAndGlyphs">C u. 1-2</text>
<text x="1376.8" y="804.5" font-size="18.5" textLength="54.5" lengthAdjust="spacingAndGlyphs">3 Std.</text>
<text x="1376.8" y="862.8" font-size="18.5" textLength="54.5" lengthAdjust="spacingAndGlyphs">6 Std.</text>
</g>
<!-- bergsteigen logo -->
<polyline points="1443.9,897.4 1451.7,885.9 1463.9,897.4 1472.7,889.7 1488.2,907.6" fill="none" stroke="#e2001a" stroke-width="3"/>
<text x="1321.4" y="919.1" class="b" font-size="31" fill="#e2001a" textLength="59.4" lengthAdjust="spacingAndGlyphs">berg</text>
<text x="1381.2" y="919.1" class="b" font-size="31" fill="#1a1a1a" textLength="98.2" lengthAdjust="spacingAndGlyphs">steigen</text>
<text x="1480" y="919.1" class="b" font-size="20" fill="#8a8a8a" textLength="34.1" lengthAdjust="spacingAndGlyphs">.com</text>
<!-- Alpinverlag banner -->
<path fill="#e2001a" d="M1322,937 L1470,937 L1476.5,945 L1485,938 L1500,950 L1502.5,948 L1517,970.5 L1322,970.5 Z"/>
<path fill="#fff" d="M1482.7,953 L1488,949.7 L1500.5,965.2 L1493,965.2 Z"/>
<text x="1325.4" y="961.3" class="b" font-size="23" fill="#fff" textLength="144" lengthAdjust="spacingAndGlyphs">Alpinverlag</text>
<text x="1373" y="968.4" class="b" font-size="5.5" fill="#fff" textLength="68.7" lengthAdjust="spacingAndGlyphs">www.alpinverlag.at</text>
</svg>
</body></html>
